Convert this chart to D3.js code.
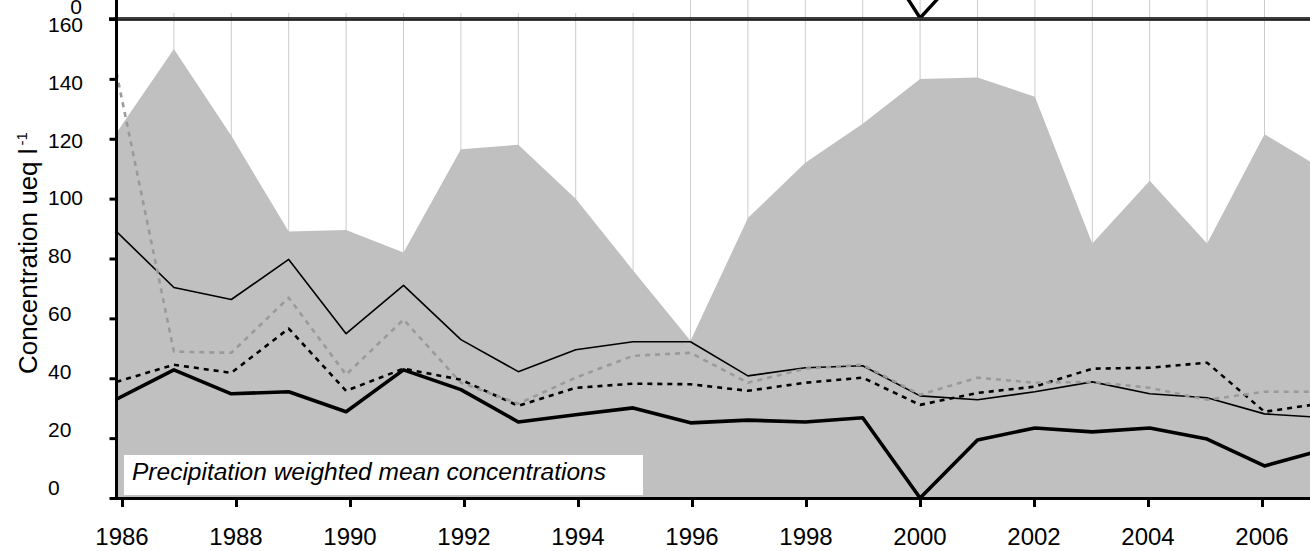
<!DOCTYPE html>
<html>
<head>
<meta charset="utf-8">
<script src="https://cdn.jsdelivr.net/npm/d3@7"></script>
<style>
  html, body { margin: 0; padding: 0; background: #fff; overflow: hidden; }
  svg { display: block; font-family: "Liberation Sans", Arial, sans-serif; }
</style>
</head>
<body>
<svg id="chart" width="1310" height="551"></svg>
<script>
// Annual values, 1986-2007 (ueq l-1)
const years = [1986,1987,1988,1989,1990,1991,1992,1993,1994,1995,1996,1997,1998,1999,2000,2001,2002,2003,2004,2005,2006,2007];
const precipitation = [122,150,121,89,89.5,82,116.5,118,100,76,52.5,93.5,112,125,140,140.5,134,85,106,85,121.5,110];
const thinSeries   = [89,70.3,66.3,79.7,54.9,71,52.9,42.2,49.5,52.2,52.2,40.8,43.5,44.2,34.1,32.8,35.5,38.8,34.8,33.5,28.1,26.9];
const thickSeries  = [33,42.8,34.8,35.5,28.8,42.8,36.2,25.4,27.8,30.1,25.1,26,25.4,26.8,0,19.4,23.4,22.1,23.4,19.7,10.7,16];
const dottedSeries = [38.8,44.5,41.8,56.6,35.8,43.2,39.5,30.8,36.8,38.2,38,35.8,38.5,40.2,31.1,35.1,37.2,43.2,43.5,45.2,28.8,31.6];
const grayDashSeries = [142,48.9,48.5,66.9,41.2,59.6,38.5,31.5,40.2,47.5,48.5,38.5,43.2,44.5,34.5,40.2,38.5,38.8,36.8,32.8,35.5,35.5];
const yTicks = [0,20,40,60,80,100,120,140,160];
const xTicks = [1986,1988,1990,1992,1994,1996,1998,2000,2002,2004,2006];

// Bottom edge of the panel above (only its lowest strip shows)
const upperYears = [1999,2000,2001];
const upperThick = [30,0,21];

const W = 1310, H = 551;
const svg = d3.select("#chart");

const x = d3.scaleLinear().domain([1986, 2006]).range([116.5, 1264.5]);
const xAxisPos = d3.scaleLinear().domain([1986, 2006]).range([122, 1262]);
const y = d3.scaleLinear().domain([0, 160]).range([498, 19]);
const yLabelPos = d3.scaleLinear().domain([0, 160]).range([487, 24.5]);
const yUpper = d3.scaleLinear().domain([0, 160]).range([18, -460]);

const rows = years.map((yr, i) => ({
  year: yr,
  precip: precipitation[i],
  thin: thinSeries[i],
  thick: thickSeries[i],
  dotted: dottedSeries[i],
  gray: grayDashSeries[i]
}));

const defs = svg.append("defs");
defs.append("clipPath").attr("id", "plotClip")
  .append("rect").attr("x", 116.5).attr("y", 19).attr("width", W - 116.5).attr("height", 498 - 19);
defs.append("clipPath").attr("id", "upperClip")
  .append("rect").attr("x", 116.5).attr("y", -10).attr("width", W - 116.5).attr("height", 27.5);

// vertical year gridlines
const gridYears = d3.range(1987, 2008);
svg.append("g").selectAll("line").data(gridYears).join("line")
  .attr("x1", d => x(d)).attr("x2", d => x(d))
  .attr("y1", 0).attr("y2", 498)
  .attr("stroke", "#cccccc").attr("stroke-width", 1);

// label box of the upper panel, covering its gridlines
svg.append("rect").attr("x", 124).attr("y", -30).attr("width", 519).attr("height", 43).attr("fill", "#fff");

// precipitation area
const plot = svg.append("g").attr("clip-path", "url(#plotClip)");
plot.append("path").datum(rows)
  .attr("fill", "#c0c0c0")
  .attr("d", d3.area().x(d => x(d.year)).y0(y(0)).y1(d => y(d.precip)));

function drawLine(key, stroke, width, dash) {
  const p = plot.append("path").datum(rows)
    .attr("fill", "none")
    .attr("stroke", stroke)
    .attr("stroke-width", width)
    .attr("stroke-linejoin", "round")
    .attr("d", d3.line().x(d => x(d.year)).y(d => y(d[key])));
  if (dash) p.attr("stroke-dasharray", dash);
}
drawLine("thin", "#000", 1.6, null);
drawLine("thick", "#000", 3.6, null);
drawLine("dotted", "#000", 2.6, "5,5");
drawLine("gray", "#9a9a9a", 2.6, "5,5");

// label box
svg.append("rect").attr("x", 124).attr("y", 455).attr("width", 519).attr("height", 40).attr("fill", "#fff");
svg.append("text").attr("x", 132).attr("y", 480)
  .attr("font-size", 24.5).attr("font-style", "italic").attr("fill", "#000")
  .text("Precipitation weighted mean concentrations");

// upper panel fragment
svg.append("g").attr("clip-path", "url(#upperClip)")
  .append("path").datum(upperYears.map((yr, i) => ({ year: yr, v: upperThick[i] })))
  .attr("fill", "none").attr("stroke", "#000").attr("stroke-width", 3.4)
  .attr("stroke-linejoin", "miter")
  .attr("d", d3.line().x(d => x(d.year)).y(d => yUpper(d.v)));

// panel separator (upper x axis + lower frame)
svg.append("line").attr("x1", 109).attr("x2", W).attr("y1", 19).attr("y2", 19)
  .attr("stroke", "#000").attr("stroke-width", 3.4);
svg.append("line").attr("x1", 117).attr("x2", W).attr("y1", 18.9).attr("y2", 18.9)
  .attr("stroke", "#8a8a8a").attr("stroke-width", 0.7);

// y axis
const yAxisG = svg.append("g").attr("transform", "translate(116.5,0)")
  .call(d3.axisLeft(y).tickValues(yTicks).tickSize(7).tickFormat(""));
yAxisG.select(".domain").remove();
yAxisG.selectAll(".tick line").attr("stroke", "#000").attr("stroke-width", 3);
svg.append("line").attr("x1", 116.5).attr("x2", 116.5).attr("y1", 0).attr("y2", 500)
  .attr("stroke", "#000").attr("stroke-width", 3);

svg.append("g").selectAll("text").data(yTicks).join("text")
  .attr("x", 48).attr("y", d => yLabelPos(d)).attr("dy", "0.36em")
  .attr("font-size", 21).attr("fill", "#000")
  .text(d => d);
svg.append("text").attr("x", 82).attr("y", 13.5).attr("text-anchor", "end")
  .attr("font-size", 21).attr("fill", "#000").text("0");

// x axis
svg.append("line").attr("x1", 115).attr("x2", W).attr("y1", 498.5).attr("y2", 498.5)
  .attr("stroke", "#000").attr("stroke-width", 3);
const xAxisG = svg.append("g").attr("transform", "translate(0,500)")
  .call(d3.axisBottom(xAxisPos).tickValues(xTicks).tickSize(7).tickFormat(""));
xAxisG.select(".domain").remove();
xAxisG.selectAll(".tick line").attr("stroke", "#000").attr("stroke-width", 3);
svg.append("g").selectAll("text").data(xTicks).join("text")
  .attr("x", d => xAxisPos(d)).attr("y", 545).attr("text-anchor", "middle")
  .attr("font-size", 24).attr("fill", "#000")
  .text(d => d);

// y axis title
const title = svg.append("text")
  .attr("transform", "translate(37,253) rotate(-90)")
  .attr("text-anchor", "middle").attr("font-size", 26).attr("fill", "#000");
title.append("tspan").text("Concentration ueq l");
title.append("tspan").attr("font-size", 15).attr("dx", 3).attr("dy", -10).text("-1");
</script>
</body>
</html>
